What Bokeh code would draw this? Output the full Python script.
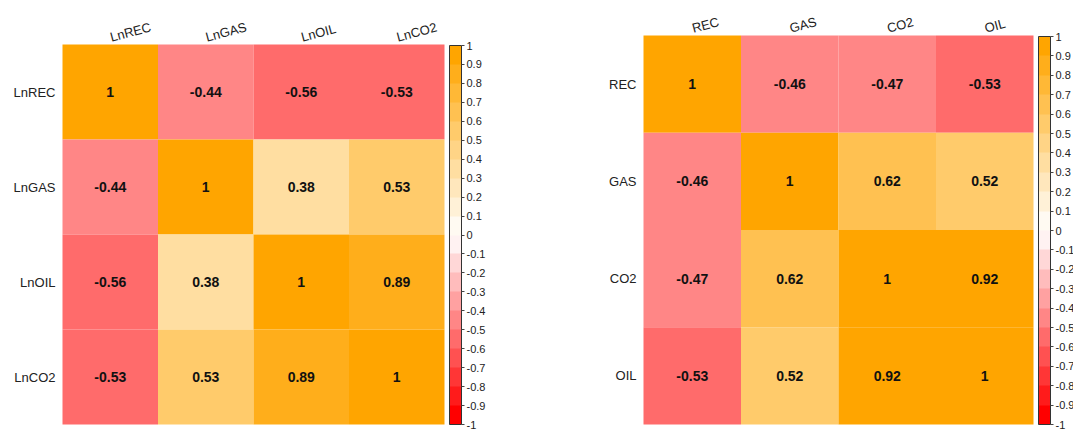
import math
from bokeh.plotting import figure
from bokeh.layouts import row
from bokeh.models import (ColumnDataSource, LinearColorMapper, ColorBar, FixedTicker,
                          CustomJSTickFormatter, Range1d)
from bokeh.transform import transform
from bokeh.core.properties import value
from bokeh.embed import file_html
from bokeh.resources import INLINE

# ---- data ----
left_vars = ["LnREC", "LnGAS", "LnOIL", "LnCO2"]
left_corr = [
    [1.00, -0.44, -0.56, -0.53],
    [-0.44, 1.00, 0.38, 0.53],
    [-0.56, 0.38, 1.00, 0.89],
    [-0.53, 0.53, 0.89, 1.00],
]
right_vars = ["REC", "GAS", "CO2", "OIL"]
right_corr = [
    [1.00, -0.46, -0.47, -0.53],
    [-0.46, 1.00, 0.62, 0.52],
    [-0.47, 0.62, 1.00, 0.92],
    [-0.53, 0.52, 0.92, 1.00],
]
colorbar_ticks = [-1.0, -0.9, -0.8, -0.7, -0.6, -0.5, -0.4, -0.3, -0.2, -0.1, 0.0,
                  0.1, 0.2, 0.3, 0.4, 0.5, 0.6, 0.7, 0.8, 0.9, 1.0]

# red -> white -> orange, 20 bins
palette = ["#FF0000", "#FF1B1B", "#FF3636", "#FF5151", "#FF6B6B", "#FF8686", "#FFA1A1",
           "#FFBCBC", "#FFD7D7", "#FFF2F2", "#FFFAF2", "#FFF1D7", "#FFE7BC", "#FFDEA1",
           "#FFD486", "#FFCB6B", "#FFC151", "#FFB836", "#FFAE1B", "#FFA500"]

FONT = "Liberation Sans"
H = 430


def corr_plot(vars_, corr, fig_w, hm_left, hm_right, hm_top, hm_bottom, cb_gap):
    n = len(vars_)
    ppx = (hm_right - hm_left) / n      # pixels per unit, x
    ppy = (hm_bottom - hm_top) / n      # pixels per unit, y

    xs, ys, vs, labels = [], [], [], []
    for i in range(n):
        for j in range(n):
            xs.append(j + 0.5)
            ys.append(n - i - 0.5)
            vs.append(corr[i][j])
            labels.append(f"{corr[i][j]:g}")
    src = ColumnDataSource(dict(x=xs, y=ys, v=vs, label=labels))

    top_src = ColumnDataSource(dict(x=[j + 0.5 for j in range(n)],
                                    y=[n + 7 / ppy] * n, t=vars_))
    left_src = ColumnDataSource(dict(x=[-7 / ppx] * n,
                                     y=[n - i - 0.5 for i in range(n)], t=vars_))

    mapper = LinearColorMapper(palette=palette, low=-1, high=1)

    p = figure(width=fig_w, height=H,
               x_range=Range1d(-hm_left / ppx, (fig_w - hm_left) / ppx),
               y_range=Range1d(-(H - hm_bottom) / ppy, n + hm_top / ppy),
               min_border=0, x_axis_location=None, y_axis_location=None,
               output_backend="svg", toolbar_location=None,
               background_fill_color="white", border_fill_color="white")
    p.outline_line_color = None
    p.grid.visible = False

    p.rect(x="x", y="y", width=1, height=1, source=src,
           fill_color=transform("v", mapper), line_color=None)
    p.text(x="x", y="y", text="label", source=src, text_align="center",
           text_baseline="middle", text_font=value(FONT), text_font_style="bold",
           text_font_size="14px", text_color="#111111")
    p.text(x="x", y="y", text="t", source=top_src, angle=math.radians(15),
           text_align="left", text_baseline="alphabetic", text_font=value(FONT),
           text_font_size="13px", text_color="#222222")
    p.text(x="x", y="y", text="t", source=left_src,
           text_align="right", text_baseline="middle", text_font=value(FONT),
           text_font_size="13px", text_color="#222222")

    cb = ColorBar(color_mapper=mapper, location=(hm_right + cb_gap, H - hm_bottom),
                  width=12, height=hm_bottom - hm_top - 1,
                  margin=0, padding=0,
                  ticker=FixedTicker(ticks=colorbar_ticks),
                  formatter=CustomJSTickFormatter(code="return Number(tick.toFixed(1)).toString()"),
                  major_tick_in=0, major_tick_out=3, major_tick_line_color="#444444",
                  minor_tick_line_color=None,
                  bar_line_color="#333333", border_line_color=None,
                  background_fill_color=None, label_standoff=2,
                  major_label_text_font=FONT, major_label_text_font_size="11px",
                  major_label_text_color="#222222")
    p.add_layout(cb, "center")
    return p


# left figure spans x 0..540, right figure spans 540..1073 (positions relative to each figure)
p1 = corr_plot(left_vars, left_corr, 540, 62, 444, 44, 424, 5)
p2 = corr_plot(right_vars, right_corr, 533, 103, 493, 35, 424, 5)

layout = row(p1, p2)
open("out.html", "w").write(file_html(layout, INLINE))
